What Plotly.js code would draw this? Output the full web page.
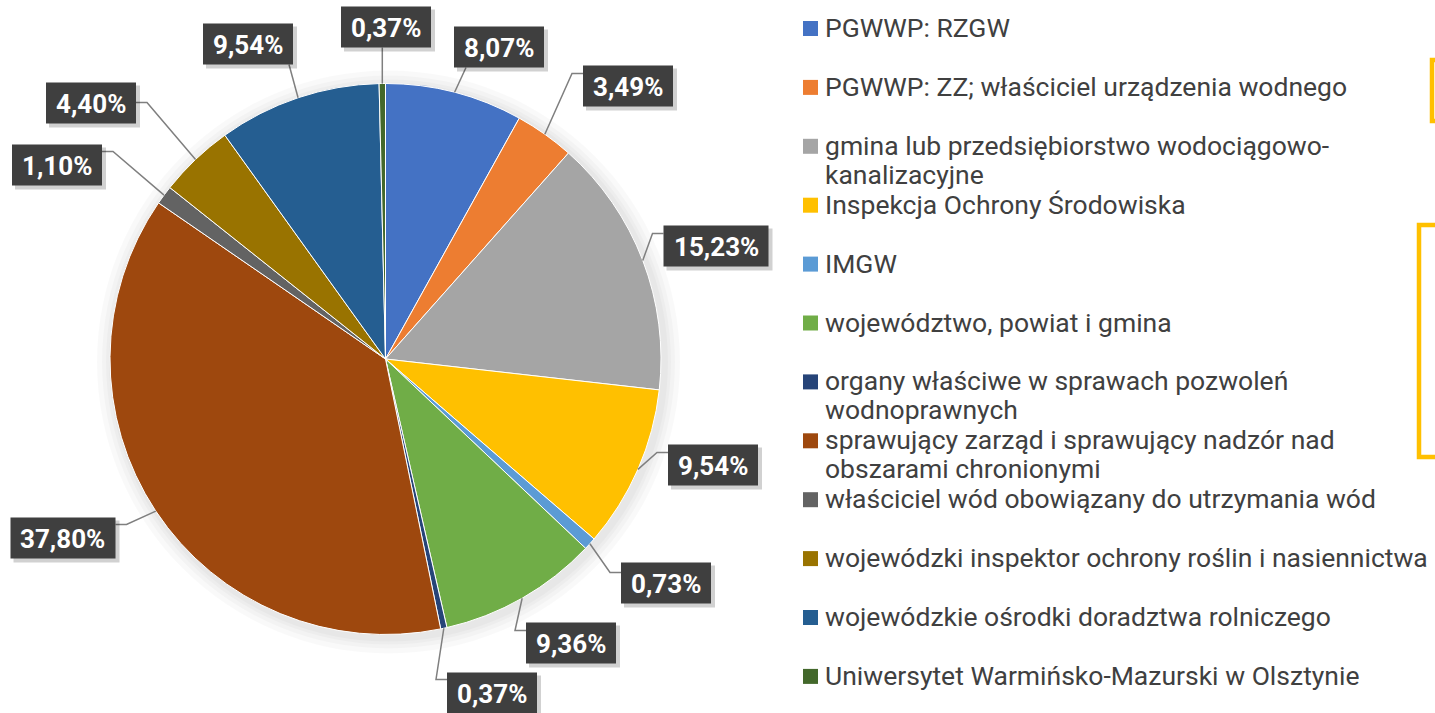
<!DOCTYPE html>
<html>
<head>
<meta charset="utf-8">
<script src="https://cdn.plot.ly/plotly-3.0.1.min.js"></script>
<style>
  html, body { margin: 0; padding: 0; background: #fff; }
  #chart { width: 1435px; height: 713px; }
</style>
</head>
<body>
<div id="chart"></div>
<script>
// slices, clockwise from 12 o'clock (same order as the legend)
let categories = [
  'PGWWP: RZGW',
  'PGWWP: ZZ; właściciel urządzenia wodnego',
  'gmina lub przedsiębiorstwo wodociągowo-<br>kanalizacyjne',
  'Inspekcja Ochrony Środowiska',
  'IMGW',
  'województwo, powiat i gmina',
  'organy właściwe w sprawach pozwoleń<br>wodnoprawnych',
  'sprawujący zarząd i sprawujący nadzór nad<br>obszarami chronionymi',
  'właściciel wód obowiązany do utrzymania wód',
  'wojewódzki inspektor ochrony roślin i nasiennictwa',
  'wojewódzkie ośrodki doradztwa rolniczego',
  'Uniwersytet Warmińsko-Mazurski w Olsztynie'
];
let shares = [8.07, 3.49, 15.23, 9.54, 0.73, 9.36, 0.37, 37.80, 1.10, 4.40, 9.54, 0.37];
let shareLabels = shares.map(v => v.toFixed(2).replace('.', ',') + '%');

let colors = ['#4472C4', '#ED7D31', '#A5A5A5', '#FFC000', '#5B9BD5', '#70AD47',
              '#264478', '#9E480E', '#636363', '#997300', '#255E91', '#43682B'];

// where each value box sits (px): centre x, centre y, side the leader joins, offset from box top
let labelPos = [
  [499, 47, 'b', 12], [628, 86, 'l', 8], [716, 246, 'l', 8], [713, 465, 'l', 8],
  [666, 583, 'l', 10], [571, 643, 'l', 8], [492, 693, 'l', 7], [63, 538, 'r', 7],
  [57, 165, 'r', 7], [91, 103, 'r', 20], [248, 44, 'b', -4], [386, 27, 'b', 0]
];

const W = 1435, H = 713;
const cx = 385.5, cy = 359, R = 275.5;
const px = x => x / W;
const py = y => 1 - y / H;

// measure text for box widths
let ctx = document.createElement('canvas').getContext('2d');
ctx.font = 'bold 26px Roboto';

let shapes = [];
let annotations = [];

// soft glow behind the pie
[16, 11, 7, 4].forEach(d => {
  shapes.push({
    type: 'circle', xref: 'paper', yref: 'paper', layer: 'below',
    x0: px(cx - R - d + 3), x1: px(cx + R + d + 3), y0: py(cy + R + d + 3), y1: py(cy - R - d + 3),
    fillcolor: 'rgba(0,0,0,0.025)', line: {width: 0}
  });
});

// value labels with leader lines
let cum = 0;
for (let i = 0; i < shares.length; i++) {
  let mid = (cum + shares[i] / 2) / 100 * 2 * Math.PI;
  cum += shares[i];
  let ex = cx + R * Math.sin(mid);
  let ey = cy - R * Math.cos(mid);

  let p = labelPos[i];
  let w = Math.round(ctx.measureText(shareLabels[i]).width) + 20;
  let h = 41;
  let left = p[0] - w / 2, top = p[1] - h / 2;

  let path;
  if (p[2] === 'b') {
    let ax = Math.min(Math.max(ex, left + 4), left + w - 4);
    if (p[3] > 0) ax = left + p[3];
    path = `M${px(ex)},${py(ey)} L${px(ax)},${py(top + h)}`;
  } else {
    let ay = top + p[3];
    let sx = p[2] === 'l' ? left : left + w;
    let kx = p[2] === 'l' ? sx - 11 : sx + 11;
    path = `M${px(ex)},${py(ey)} L${px(kx)},${py(ay)} L${px(sx)},${py(ay)}`;
  }
  shapes.push({type: 'path', xref: 'paper', yref: 'paper', path: path,
               line: {color: '#7f7f7f', width: 1.5}});

  // shadow, then box
  shapes.push({type: 'rect', xref: 'paper', yref: 'paper',
               x0: px(left + 3), x1: px(left + w + 4), y0: py(top + h + 4), y1: py(top + 3),
               fillcolor: 'rgba(0,0,0,0.18)', line: {width: 0}});
  shapes.push({type: 'rect', xref: 'paper', yref: 'paper',
               x0: px(left), x1: px(left + w), y0: py(top + h), y1: py(top),
               fillcolor: '#3f3f3f', line: {width: 0}});

  annotations.push({
    xref: 'paper', yref: 'paper', x: px(p[0]), y: py(p[1] + 1),
    xanchor: 'center', yanchor: 'middle', showarrow: false,
    text: '<b>' + shareLabels[i] + '</b>',
    font: {family: 'Roboto', size: 26, color: '#ffffff'}
  });
}

// legend built from the same categories / colors
const legY0 = 28.5, legStep = 58.9, lineStep = 29;
for (let i = 0; i < categories.length; i++) {
  let yc = legY0 + i * legStep;
  shapes.push({type: 'rect', xref: 'paper', yref: 'paper',
               x0: px(803), x1: px(818), y0: py(yc + 7.5), y1: py(yc - 7.5),
               fillcolor: colors[i], line: {width: 0}});
  categories[i].split('<br>').forEach((line, j) => {
    annotations.push({
      xref: 'paper', yref: 'paper', x: px(823), y: py(yc - 1 + j * lineStep),
      xanchor: 'left', yanchor: 'middle', showarrow: false,
      text: line, font: {family: 'Roboto', size: 26.5, color: '#404040'}
    });
  });
}

// yellow frames at the right edge (cut off)
shapes.push({type: 'rect', xref: 'paper', yref: 'paper',
             x0: px(1432), x1: px(1480), y0: py(121), y1: py(60),
             line: {color: '#FFC000', width: 4.5}});
shapes.push({type: 'rect', xref: 'paper', yref: 'paper',
             x0: px(1419), x1: px(1480), y0: py(457), y1: py(225),
             line: {color: '#FFC000', width: 4.5}});

let data = [{
  type: 'pie',
  labels: categories,
  values: shares,
  sort: false,
  direction: 'clockwise',
  rotation: 0,
  textinfo: 'none',
  hoverinfo: 'label+percent',
  marker: {colors: colors, line: {color: '#ffffff', width: 1}},
  domain: {x: [px(cx - R), px(cx + R)], y: [py(cy + R), py(cy - R)]}
}];

let layout = {
  width: W,
  height: H,
  margin: {l: 0, r: 0, t: 0, b: 0},
  paper_bgcolor: '#ffffff',
  showlegend: false,
  shapes: shapes,
  annotations: annotations
};

Plotly.newPlot('chart', data, layout, {displayModeBar: false});
</script>
</body>
</html>
